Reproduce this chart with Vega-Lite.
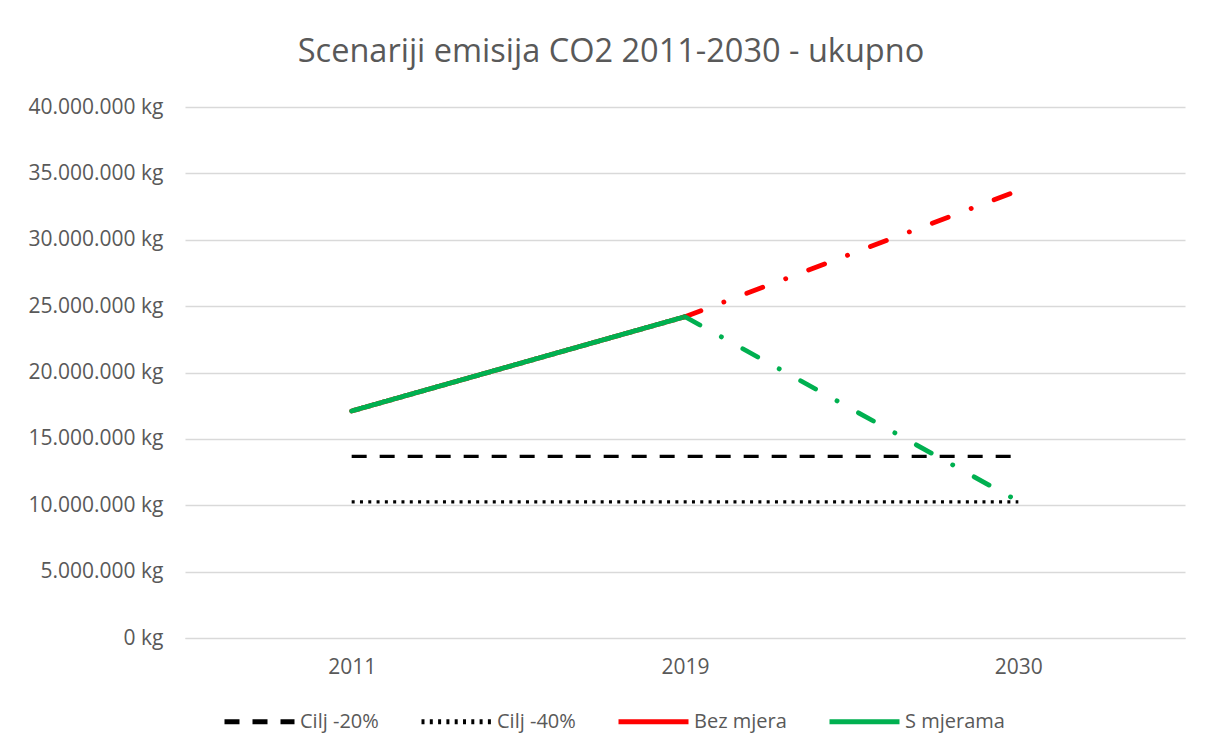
{
  "$schema": "https://vega.github.io/schema/vega-lite/v6.json",
  "width": 1000,
  "height": 531,
  "autosize": "none",
  "padding": {"left": 185, "top": 107, "right": 25, "bottom": 115},
  "background": "white",
  "title": {
    "text": "Scenariji emisija CO2 2011-2030 - ukupno",
    "anchor": "middle",
    "dx": -74,
    "offset": 28,
    "fontSize": 32.5,
    "font": "Open Sans",
    "fontWeight": "normal",
    "color": "#595959"
  },
  "data": {
    "values": [
      {"series": "Cilj -20%", "year": "2011", "value": 13680000, "part": "target"},
      {"series": "Cilj -20%", "year": "2019", "value": 13680000, "part": "target"},
      {"series": "Cilj -20%", "year": "2030", "value": 13680000, "part": "target"},
      {"series": "Cilj -40%", "year": "2011", "value": 10260000, "part": "target"},
      {"series": "Cilj -40%", "year": "2019", "value": 10260000, "part": "target"},
      {"series": "Cilj -40%", "year": "2030", "value": 10260000, "part": "target"},
      {"series": "Bez mjera", "year": "2011", "value": 17100000, "part": "hist"},
      {"series": "Bez mjera", "year": "2019", "value": 24200000, "part": "hist"},
      {"series": "Bez mjera", "year": "2019", "value": 24200000, "part": "proj"},
      {"series": "Bez mjera", "year": "2030", "value": 33700000, "part": "proj"},
      {"series": "S mjerama", "year": "2011", "value": 17100000, "part": "hist"},
      {"series": "S mjerama", "year": "2019", "value": 24200000, "part": "hist"},
      {"series": "S mjerama", "year": "2019", "value": 24200000, "part": "proj"},
      {"series": "S mjerama", "year": "2030", "value": 10300000, "part": "proj"}
    ]
  },
  "encoding": {
    "x": {
      "field": "year",
      "type": "ordinal",
      "scale": {"type": "point", "padding": 0.5},
      "axis": {
        "title": null,
        "labelAngle": 0,
        "ticks": false,
        "domain": true,
        "domainColor": "#D9D9D9",
        "labelPadding": 18,
        "grid": false
      }
    },
    "y": {
      "field": "value",
      "type": "quantitative",
      "scale": {"domain": [0, 40000000], "nice": false},
      "axis": {
        "title": null,
        "values": [0, 5000000, 10000000, 15000000, 20000000, 25000000, 30000000, 35000000, 40000000],
        "labelExpr": "replace(format(datum.value, ',.0f'), regexp(',', 'g'), '.') + ' kg'",
        "ticks": false,
        "domain": false,
        "grid": true,
        "gridColor": "#D9D9D9",
        "gridWidth": 1.3,
        "labelPadding": 22
      }
    },
    "color": {
      "field": "series",
      "type": "nominal",
      "scale": {
        "domain": ["Cilj -20%", "Cilj -40%", "Bez mjera", "S mjerama"],
        "range": ["#000000", "#000000", "#FF0000", "#00B050"]
      },
      "legend": {
        "title": null,
        "orient": "none",
        "direction": "horizontal",
        "legendX": 37,
        "legendY": 577,
        "symbolType": "stroke",
        "symbolSize": 4900,
        "symbolStrokeWidth": 5,
        "labelFontSize": 20,
        "labelFont": "Open Sans",
        "labelColor": "#595959",
        "labelOffset": 3,
        "columnPadding": 32,
        "padding": 0
      }
    }
  },
  "layer": [
    {
      "transform": [{"filter": "datum.part == 'target'"}],
      "mark": {"type": "line", "strokeWidth": 3.2},
      "encoding": {
        "strokeDash": {
          "field": "series",
          "type": "nominal",
          "scale": {
            "domain": ["Cilj -20%", "Cilj -40%", "Bez mjera", "S mjerama"],
            "range": [[15, 13], [3, 5.3], [1, 0], [1, 0]]
          },
          "legend": {
            "title": null,
            "orient": "none",
            "direction": "horizontal",
            "legendX": 37,
            "legendY": 577,
            "symbolType": "stroke",
            "symbolSize": 4900,
            "symbolStrokeWidth": 5,
            "labelFontSize": 20,
            "labelFont": "Open Sans",
            "labelColor": "#595959",
            "labelOffset": 3,
            "columnPadding": 32,
            "padding": 0
          }
        }
      }
    },
    {
      "transform": [{"filter": "datum.part == 'hist'"}],
      "mark": {"type": "line", "strokeWidth": 4.8, "strokeCap": "round"},
      "encoding": {
        "strokeDash": {"field": "series", "type": "nominal"}
      }
    },
    {
      "transform": [{"filter": "datum.part == 'proj'"}],
      "mark": {"type": "line", "strokeCap": "round", "strokeWidth": 4.8, "strokeDash": [17, 24.5, 0.1, 24.5]},
      "encoding": {
        "color": {"field": "series", "type": "nominal", "legend": null},
        "detail": {"field": "series"}
      }
    }
  ],
  "config": {
    "font": "Open Sans",
    "view": {"stroke": null},
    "axis": {"labelFontSize": 21, "labelColor": "#595959", "labelFont": "Open Sans"}
  }
}
